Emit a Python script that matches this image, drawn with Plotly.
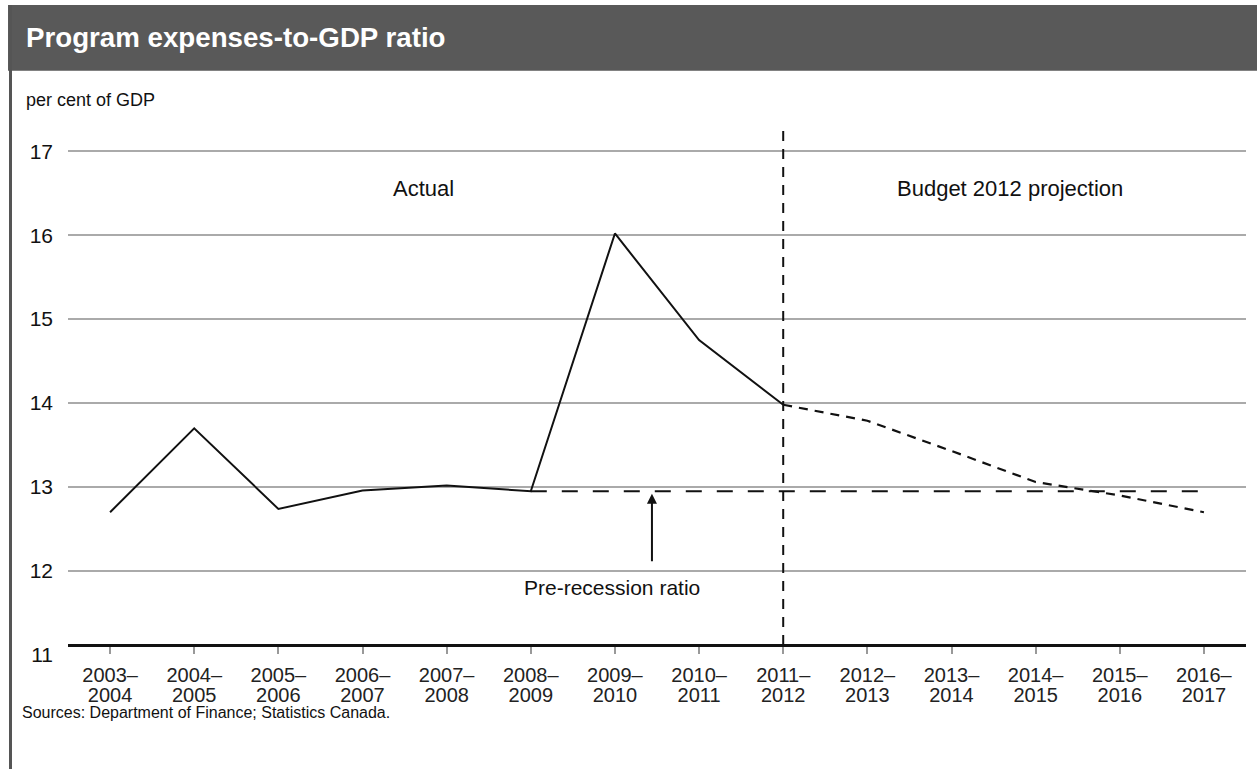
import plotly.graph_objects as go

# Fiscal years on the horizontal axis
years_top = ["2003–", "2004–", "2005–", "2006–", "2007–", "2008–", "2009–",
             "2010–", "2011–", "2012–", "2013–", "2014–", "2015–", "2016–"]
years_bottom = ["2004", "2005", "2006", "2007", "2008", "2009", "2010",
                "2011", "2012", "2013", "2014", "2015", "2016", "2017"]
years = [a + b for a, b in zip(years_top, years_bottom)]

# Program expenses, per cent of GDP
actual_years = years[:9]
actual_ratio = [12.70, 13.70, 12.74, 12.96, 13.02, 12.95, 16.02, 14.75, 13.98]
projection_years = years[8:]
projection_ratio = [13.98, 13.79, 13.43, 13.06, 12.90, 12.70]
pre_recession_years = [years[5], years[13]]
pre_recession_ratio = [actual_ratio[5], actual_ratio[5]]

y_ticks = [11, 12, 13, 14, 15, 16, 17]
grid_ticks = [12, 13, 14, 15, 16, 17]

FONT = "Liberation Sans, Arial, Helvetica, sans-serif"
W, H = 1257, 769
M_L, M_R, M_T, M_B = 68, 11, 126, 50
PLOT_BOTTOM_PX = 655          # pixel row of the value 11
X_RANGE = [-0.5, 13.5]
Y_RANGE = [11, 17.3]


def px_y(py):
    """Pixel row -> paper fraction."""
    return (H - M_B - py) / (H - M_T - M_B)


def px_x(px):
    """Pixel column -> paper fraction."""
    return (px - M_L) / (W - M_L - M_R)


Y_DOMAIN = [px_y(PLOT_BOTTOM_PX), 1.0]
AXIS_POS = px_y(645)          # baseline
AXIS2_POS = px_y(666)         # second line of the year labels

fig = go.Figure()

fig.add_trace(go.Scatter(
    x=actual_years, y=actual_ratio, mode="lines",
    line=dict(color="#111111", width=2), hoverinfo="skip",
    xaxis="x", yaxis="y"))

fig.add_trace(go.Scatter(
    x=projection_years, y=projection_ratio, mode="lines",
    line=dict(color="#111111", width=2.2, dash="9px,7px"), hoverinfo="skip",
    xaxis="x2", yaxis="y"))

fig.add_trace(go.Scatter(
    x=pre_recession_years, y=pre_recession_ratio, mode="lines",
    line=dict(color="#111111", width=2.2, dash="16px,15px"), hoverinfo="skip",
    xaxis="x", yaxis="y2"))

common_x = dict(
    type="category", categoryorder="array", categoryarray=years,
    range=X_RANGE, anchor="free", tickmode="array", tickvals=years,
    showgrid=False, zeroline=False,
    ticks="outside", ticklen=7, tickwidth=2, ticklabelstandoff=4,
    tickfont=dict(family=FONT, size=20, color="#222222"),
)

fig.update_layout(
    width=W, height=H,
    margin=dict(l=M_L, r=M_R, t=M_T, b=M_B),
    paper_bgcolor="white", plot_bgcolor="white",
    showlegend=False,
    font=dict(family=FONT, color="#111111"),
    xaxis=dict(
        **common_x, ticktext=years_top, position=AXIS_POS,
        showline=True, linecolor="#111111", linewidth=3,
        tickcolor="#999999",
    ),
    xaxis2=dict(
        **common_x, ticktext=years_bottom, position=AXIS2_POS,
        overlaying="x", showline=False, tickcolor="rgba(0,0,0,0)",
    ),
    yaxis=dict(
        domain=Y_DOMAIN, range=Y_RANGE, tickmode="array", tickvals=y_ticks,
        showgrid=False, zeroline=False, showline=False, ticks="",
        ticklabelstandoff=14,
        tickfont=dict(family=FONT, size=21, color="#111111"),
    ),
    yaxis2=dict(
        range=Y_RANGE, overlaying="y", side="left",
        tickmode="array", tickvals=grid_ticks, showticklabels=False,
        showgrid=True, gridcolor="#aaaaaa", gridwidth=2,
        zeroline=False, showline=False, ticks="",
    ),
)

# Header band, left border and the actual/projection divider
fig.add_shape(type="rect", xref="paper", yref="paper",
              x0=px_x(8), x1=px_x(W), y0=px_y(70.7), y1=px_y(5),
              fillcolor="#595959", line=dict(width=0), layer="below")
fig.add_shape(type="line", xref="paper", yref="paper",
              x0=px_x(10.5), x1=px_x(10.5), y0=px_y(H + 5), y1=px_y(5),
              line=dict(color="#555555", width=3))
fig.add_shape(type="line", xref="x", yref="y",
              x0=8, x1=8, y0=11.12, y1=17.24,
              line=dict(color="#111111", width=2, dash="10px,8px"))

fig.add_annotation(xref="paper", yref="paper", x=px_x(24), y=px_y(38),
                   text="<b>Program expenses-to-GDP ratio</b>", showarrow=False,
                   xanchor="left", yanchor="middle",
                   font=dict(family=FONT, size=27.7, color="white"))
fig.add_annotation(xref="paper", yref="paper", x=px_x(24), y=px_y(100),
                   text="per cent of GDP", showarrow=False,
                   xanchor="left", yanchor="middle",
                   font=dict(family=FONT, size=18, color="#111111"))
fig.add_annotation(xref="x", yref="y", x=3.72, y=16.55, text="Actual",
                   showarrow=False, font=dict(family=FONT, size=22))
fig.add_annotation(xref="x", yref="y", x=10.69, y=16.55,
                   text="Budget 2012 projection",
                   showarrow=False, font=dict(family=FONT, size=22))
fig.add_annotation(xref="x", yref="y", x=5.96, y=11.8,
                   text="Pre-recession ratio",
                   showarrow=False, font=dict(family=FONT, size=21))
fig.add_annotation(xref="x", yref="y", axref="x", ayref="y",
                   x=6.44, y=pre_recession_ratio[0] - 0.03,
                   ax=6.44, ay=12.1, text="", showarrow=True,
                   arrowhead=2, arrowsize=1, arrowwidth=2, arrowcolor="#111111")
fig.add_annotation(xref="paper", yref="paper", x=px_x(20), y=px_y(712),
                   text="Sources: Department of Finance; Statistics Canada.",
                   showarrow=False, xanchor="left", yanchor="middle",
                   font=dict(family=FONT, size=16, color="#111111"))

fig.write_html("out.html")
